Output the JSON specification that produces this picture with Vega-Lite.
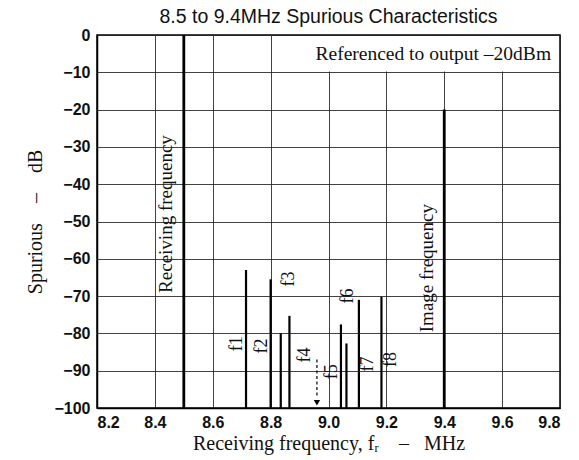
{
  "$schema": "https://vega.github.io/schema/vega-lite/v6.json",
  "width": 463,
  "height": 373,
  "autosize": {"type": "none"},
  "padding": {"left": 97, "top": 35, "right": 19, "bottom": 52},
  "background": "white",
  "title": {
    "text": "8.5 to 9.4MHz Spurious Characteristics",
    "font": "Liberation Sans",
    "fontSize": 19.5,
    "fontWeight": "normal",
    "color": "#111",
    "offset": 0
  },
  "config": {
    "view": {"stroke": "black", "strokeWidth": 1.5},
    "axis": {
      "grid": true,
      "gridColor": "#222",
      "gridWidth": 1,
      "gridOpacity": 0.85,
      "domainColor": "black",
      "domainWidth": 1.5,
      "ticks": false,
      "labelOverlap": false,
      "labelFont": "Liberation Sans",
      "labelFontWeight": "bold",
      "labelFontSize": 16,
      "labelColor": "#111",
      "titleFont": "Liberation Serif",
      "titleFontWeight": "normal",
      "titleFontSize": 20,
      "titleColor": "#111"
    }
  },
  "datasets": {
    "spikes": [
      {"freq": 8.5, "db": 0, "kind": "signal"},
      {"freq": 9.4, "db": -20, "kind": "signal"},
      {"freq": 8.715, "db": -63, "kind": "spur"},
      {"freq": 8.8, "db": -65.5, "kind": "spur"},
      {"freq": 8.835, "db": -80, "kind": "spur"},
      {"freq": 8.865, "db": -75.3, "kind": "spur"},
      {"freq": 9.043, "db": -77.6, "kind": "spur"},
      {"freq": 9.062, "db": -82.7, "kind": "spur"},
      {"freq": 9.105, "db": -71, "kind": "spur"},
      {"freq": 9.183, "db": -70.2, "kind": "spur"}
    ],
    "labels": [
      {"freq": 8.438, "db": -48, "text": "Receiving frequency", "size": "big"},
      {"freq": 9.34, "db": -62.5, "text": "Image frequency", "size": "big"},
      {"freq": 8.684, "db": -82.8, "text": "f1", "size": "small"},
      {"freq": 8.77, "db": -83.4, "text": "f2", "size": "small"},
      {"freq": 8.863, "db": -65.4, "text": "f3", "size": "small"},
      {"freq": 8.919, "db": -85.8, "text": "f4", "size": "small"},
      {"freq": 9.012, "db": -90.3, "text": "f5", "size": "small"},
      {"freq": 9.067, "db": -70, "text": "f6", "size": "small"},
      {"freq": 9.136, "db": -88.2, "text": "f7", "size": "small"},
      {"freq": 9.216, "db": -87, "text": "f8", "size": "small"}
    ]
  },
  "encoding": {
    "x": {"field": "freq", "type": "quantitative",
      "scale": {"domain": [8.2, 9.8], "nice": false, "zero": false},
      "axis": {"values": [8.2, 8.4, 8.6, 8.8, 9.0, 9.2, 9.4, 9.6, 9.8], "tickCount": 30, "format": ".1f", "labelPadding": 6, "title": "Receiving frequency, fᵣ\u00a0\u00a0\u00a0\u00a0–\u00a0\u00a0\u00a0MHz", "titlePadding": 3}},
    "y": {"field": "db", "type": "quantitative",
      "scale": {"domain": [-100, 0], "nice": false, "zero": false},
      "axis": {"values": [-100, -90, -80, -70, -60, -50, -40, -30, -20, -10, 0], "tickCount": 30, "labelExpr": "(datum.value < 0 ? '\u2212' : '') + abs(datum.value)", "labelPadding": 7, "title": "Spurious\u00a0\u00a0\u00a0\u00a0–\u00a0\u00a0\u00a0\u00a0dB", "titlePadding": 8}}
  },
  "layer": [
    {
      "data": {"values": [{"freq": 8.9, "x2": 9.795, "db": -9.8, "y2": -0.3}]},
      "mark": {"type": "rect", "fill": "white", "stroke": null},
      "encoding": {
        "x2": {"field": "x2"},
        "y2": {"field": "y2"}
      }
    },
    {
      "data": {"name": "spikes"},
      "transform": [{"filter": "datum.kind == 'signal'"}],
      "mark": {"type": "rule", "color": "black", "strokeWidth": 2.8},
      "encoding": {
        "y2": {"datum": -100}
      }
    },
    {
      "data": {"name": "spikes"},
      "transform": [{"filter": "datum.kind == 'spur'"}],
      "mark": {"type": "rule", "color": "black", "strokeWidth": 2.2},
      "encoding": {
        "y2": {"datum": -100}
      }
    },
    {
      "data": {"values": [{"freq": 8.96, "db": -87, "bottom": -97.3}]},
      "mark": {"type": "rule", "color": "black", "strokeWidth": 1.2, "strokeDash": [3, 2.5]},
      "encoding": {
        "y2": {"field": "bottom"}
      }
    },
    {
      "data": {"values": [{"freq": 8.96, "db": -98.6}]},
      "mark": {"type": "point", "shape": "triangle-down", "filled": true, "color": "black", "size": 40, "opacity": 1},
      "encoding": {}
    },
    {
      "data": {"name": "labels"},
      "transform": [{"filter": "datum.size == 'big'"}],
      "mark": {"type": "text", "angle": 270, "font": "Liberation Serif", "fontSize": 19, "color": "#111", "align": "center", "baseline": "middle"},
      "encoding": {
        "text": {"field": "text"}
      }
    },
    {
      "data": {"name": "labels"},
      "transform": [{"filter": "datum.size == 'small'"}],
      "mark": {"type": "text", "angle": 270, "font": "Liberation Serif", "fontSize": 18, "color": "#111", "align": "center", "baseline": "middle"},
      "encoding": {
        "text": {"field": "text"}
      }
    },
    {
      "data": {"values": [{"freq": 9.362, "db": -5.2, "text": "Referenced to output –20dBm"}]},
      "mark": {"type": "text", "font": "Liberation Serif", "fontSize": 19.5, "color": "#111", "align": "center", "baseline": "middle"},
      "encoding": {
        "text": {"field": "text"}
      }
    }
  ]
}
